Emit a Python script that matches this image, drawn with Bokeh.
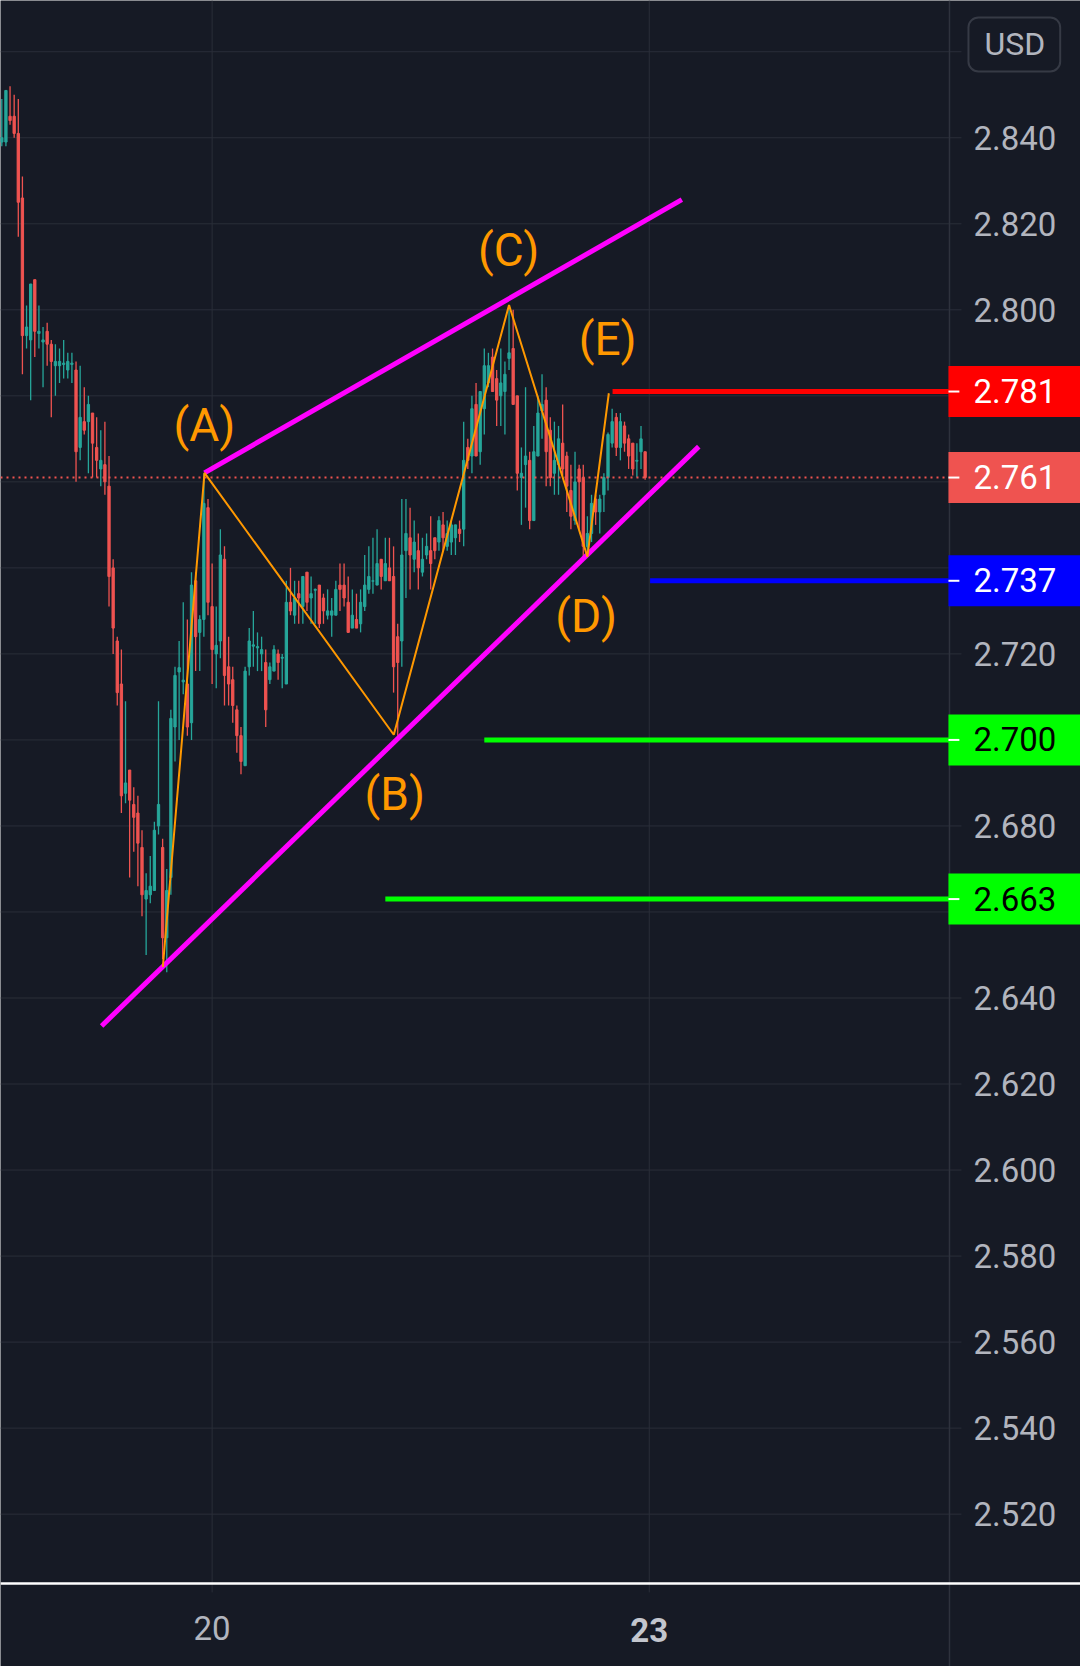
from bokeh.plotting import figure
from bokeh.models import Range1d, FixedTicker, Label, ColumnDataSource
from bokeh.embed import file_html
from bokeh.resources import INLINE
from bokeh.core.properties import value

# ---------------- data ----------------
opens = [2.839, 2.839, 2.845, 2.845, 2.841, 2.826, 2.794, 2.793, 2.807, 2.7945,
         2.7925, 2.795, 2.792, 2.787, 2.787, 2.7873, 2.786, 2.7873, 2.786, 2.768,
         2.774, 2.774, 2.776, 2.768, 2.763, 2.764, 2.759, 2.740, 2.723, 2.713,
         2.6876, 2.693, 2.685, 2.683, 2.675, 2.663, 2.664, 2.665, 2.680, 2.675,
         2.654, 2.668, 2.703, 2.7158, 2.7135, 2.713, 2.704, 2.737, 2.725, 2.728,
         2.754, 2.731, 2.720, 2.723, 2.742, 2.717, 2.714, 2.707, 2.701, 2.694,
         2.717, 2.7218, 2.7214, 2.720, 2.718, 2.714, 2.716, 2.720, 2.719, 2.713,
         2.732, 2.729, 2.734, 2.731, 2.739, 2.733, 2.7348, 2.736, 2.733, 2.729,
         2.729, 2.729, 2.736, 2.736, 2.732, 2.726, 2.728, 2.727, 2.731, 2.735,
         2.7369, 2.736, 2.742, 2.737, 2.740, 2.738, 2.724, 2.723, 2.744, 2.747,
         2.742, 2.744, 2.739, 2.743, 2.744, 2.747, 2.746, 2.750, 2.745, 2.746,
         2.747, 2.749, 2.749, 2.768, 2.766, 2.778, 2.767, 2.777, 2.783, 2.789,
         2.784, 2.780, 2.781, 2.7887, 2.791, 2.780, 2.761, 2.764, 2.765, 2.751,
         2.766, 2.7765, 2.779, 2.772, 2.762, 2.764, 2.769, 2.766, 2.758, 2.751,
         2.763, 2.761, 2.745, 2.748, 2.756, 2.753, 2.757, 2.761, 2.769, 2.775,
         2.768, 2.773, 2.770, 2.769, 2.7648, 2.767, 2.767]
highs = [2.849, 2.851, 2.852, 2.850, 2.849, 2.831, 2.801, 2.806, 2.807, 2.801,
         2.796, 2.797, 2.793, 2.792, 2.791, 2.793, 2.790, 2.790, 2.788, 2.787,
         2.782, 2.780, 2.776, 2.775, 2.772, 2.774, 2.766, 2.742, 2.724, 2.721,
         2.709, 2.693, 2.689, 2.687, 2.679, 2.669, 2.673, 2.681, 2.709, 2.677,
         2.670, 2.707, 2.717, 2.723, 2.732, 2.728, 2.739, 2.739, 2.729, 2.762,
         2.756, 2.741, 2.731, 2.749, 2.745, 2.724, 2.717, 2.708, 2.703, 2.717,
         2.726, 2.730, 2.725, 2.724, 2.721, 2.718, 2.722, 2.721, 2.720, 2.737,
         2.740, 2.737, 2.737, 2.738, 2.739, 2.738, 2.7352, 2.736, 2.734, 2.735,
         2.733, 2.737, 2.741, 2.741, 2.738, 2.735, 2.734, 2.735, 2.743, 2.745,
         2.747, 2.749, 2.742, 2.747, 2.747, 2.745, 2.727, 2.756, 2.756, 2.754,
         2.751, 2.748, 2.747, 2.748, 2.752, 2.747, 2.752, 2.753, 2.751, 2.751,
         2.750, 2.751, 2.774, 2.770, 2.780, 2.783, 2.781, 2.791, 2.790, 2.791,
         2.786, 2.791, 2.788, 2.801, 2.800, 2.780, 2.768, 2.782, 2.767, 2.773,
         2.780, 2.785, 2.782, 2.775, 2.774, 2.773, 2.778, 2.767, 2.764, 2.767,
         2.764, 2.764, 2.752, 2.757, 2.757, 2.757, 2.762, 2.7715, 2.777, 2.776,
         2.776, 2.774, 2.771, 2.769, 2.769, 2.773, 2.767]
lows = [2.838, 2.838, 2.843, 2.840, 2.817, 2.785, 2.791, 2.779, 2.789, 2.791,
        2.782, 2.787, 2.775, 2.780, 2.783, 2.784, 2.784, 2.783, 2.760, 2.765,
        2.771, 2.762, 2.761, 2.761, 2.759, 2.757, 2.731, 2.720, 2.708, 2.683,
        2.6853, 2.668, 2.674, 2.666, 2.659, 2.650, 2.662, 2.665, 2.678, 2.649,
        2.646, 2.664, 2.695, 2.700, 2.7106, 2.701, 2.700, 2.716, 2.716, 2.724,
        2.729, 2.713, 2.712, 2.719, 2.708, 2.708, 2.704, 2.697, 2.692, 2.694,
        2.715, 2.717, 2.716, 2.716, 2.703, 2.713, 2.716, 2.714, 2.712, 2.713,
        2.729, 2.727, 2.727, 2.727, 2.730, 2.727, 2.727, 2.726, 2.727, 2.728,
        2.724, 2.729, 2.730, 2.731, 2.725, 2.726, 2.726, 2.725, 2.730, 2.734,
        2.734, 2.736, 2.735, 2.737, 2.737, 2.711, 2.701, 2.717, 2.733, 2.735,
        2.739, 2.735, 2.738, 2.742, 2.735, 2.742, 2.744, 2.744, 2.744, 2.743,
        2.743, 2.746, 2.745, 2.763, 2.762, 2.766, 2.764, 2.771, 2.782, 2.781,
        2.773, 2.773, 2.771, 2.786, 2.778, 2.758, 2.750, 2.754, 2.749, 2.751,
        2.766, 2.770, 2.759, 2.759, 2.757, 2.757, 2.7615, 2.753, 2.749, 2.750,
        2.749, 2.742, 2.743, 2.746, 2.750, 2.748, 2.753, 2.758, 2.768, 2.766,
        2.765, 2.767, 2.763, 2.7615, 2.761, 2.763, 2.7605]
closes = [2.840, 2.851, 2.844, 2.841, 2.825, 2.794, 2.796, 2.806, 2.795, 2.795,
          2.793, 2.792, 2.788, 2.788, 2.788, 2.7876, 2.788, 2.7876, 2.767, 2.775,
          2.772, 2.778, 2.769, 2.765, 2.765, 2.760, 2.738, 2.726, 2.711, 2.687,
          2.690, 2.686, 2.682, 2.676, 2.664, 2.665, 2.666, 2.679, 2.685, 2.654,
          2.665, 2.705, 2.715, 2.7168, 2.7139, 2.703, 2.736, 2.724, 2.728, 2.755,
          2.732, 2.721, 2.722, 2.743, 2.715, 2.713, 2.708, 2.701, 2.695, 2.716,
          2.723, 2.7221, 2.7217, 2.721, 2.707, 2.717, 2.721, 2.718, 2.7192, 2.732,
          2.730, 2.733, 2.733, 2.738, 2.732, 2.734, 2.735, 2.727, 2.730, 2.730,
          2.730, 2.735, 2.735, 2.733, 2.725, 2.729, 2.726, 2.732, 2.736, 2.738,
          2.737, 2.741, 2.738, 2.741, 2.737, 2.717, 2.718, 2.743, 2.748, 2.743,
          2.746, 2.740, 2.742, 2.745, 2.741, 2.744, 2.751, 2.747, 2.748, 2.750,
          2.750, 2.748, 2.765, 2.765, 2.777, 2.766, 2.781, 2.787, 2.787, 2.781,
          2.779, 2.783, 2.785, 2.790, 2.778, 2.762, 2.762, 2.766, 2.751, 2.767,
          2.776, 2.778, 2.767, 2.761, 2.765, 2.770, 2.763, 2.759, 2.752, 2.760,
          2.760, 2.745, 2.748, 2.755, 2.753, 2.756, 2.761, 2.771, 2.774, 2.768,
          2.774, 2.769, 2.766, 2.763, 2.765, 2.770, 2.761]

day_ticks = [51, 157]
day_labels = ["20", "23"]
price_ticks = [2.52, 2.54, 2.56, 2.58, 2.60, 2.62, 2.64, 2.66, 2.68, 2.70,
               2.72, 2.74, 2.76, 2.78, 2.80, 2.82, 2.84, 2.86]

wave_x = [39.05, 49.15, 95.05, 123.0, 142.0, 147.2]
wave_y = [2.6472, 2.7621, 2.7012, 2.8011, 2.7426, 2.7806]
wave_names = ["(A)", "(B)", "(C)", "(D)", "(E)"]
wave_label_x = [49.15, 95.3, 122.9, 141.7, 146.9]
wave_label_y = [2.7732, 2.6874, 2.8140, 2.7288, 2.7931]

upper_x = [49.15, 164.9]
upper_y = [2.7621, 2.8256]
lower_x = [24.2, 169.0]
lower_y = [2.6335, 2.7682]

level_prices = [2.781, 2.737, 2.700, 2.663]
level_start = [148.1, 157.2, 117.0, 93.0]
level_colors = ["#ff0000", "#0000ff", "#00ff00", "#00ff00"]
last_price = 2.761

box_prices = [2.781, 2.761, 2.737, 2.700, 2.663]
box_texts = ["2.781", "2.761", "2.737", "2.700", "2.663"]
box_fill = ["#ff0000", "#ef5350", "#0000ff", "#00ff00", "#00ff00"]
box_text_color = ["#ffffff", "#ffffff", "#ffffff", "#000000", "#000000"]

# ---------------- layout constants (pixels -> data) ----------------
BG = "#161a25"
GRID = "#2a2e39"
BORDER = "#2e323d"
UP = "#26a69a"
DOWN = "#ef5350"
AXIS_TEXT = "#b2b5be"
FONT = "Roboto"

W, H = 1080, 1666
X0, X1 = -0.315, 261.57          # candle-index range across the canvas
Y0, Y1 = 2.48458, 2.87191        # price range across the canvas
PANE_X = 229.8                   # price-scale border
TICK_X = 232.7                   # end of tick marks
BOX_X = 229.55                   # left edge of price badges
PANE_Y = 2.50389                 # time-scale border
TICK_Y = 2.50181                 # end of day tick marks
DAY_LABEL_Y = 2.4930

src = ColumnDataSource(dict(
    x=list(range(len(opens))),
    h=highs, l=lows,
    top=[max(o, c) for o, c in zip(opens, closes)],
    bottom=[min(o, c) for o, c in zip(opens, closes)],
    color=[UP if c >= o else DOWN for o, c in zip(opens, closes)],
))

p = figure(frame_width=W, frame_height=H,
           x_range=Range1d(X0, X1), y_range=Range1d(Y0, Y1),
           output_backend="svg", toolbar_location=None,
           x_axis_location="below", y_axis_location="right",
           min_border_left=0, min_border_top=0, min_border_right=0, min_border_bottom=0,
           background_fill_color=BG, border_fill_color=BG,
           outline_line_color=None)
p.grid.visible = False

# x axis (labels pulled up into the time-scale strip)
xa = p.xaxis[0]
xa.ticker = FixedTicker(ticks=day_ticks)
xa.major_label_overrides = {day_ticks[0]: day_labels[0], day_ticks[1]: ""}
xa.axis_line_color = None
xa.major_tick_in = 0
xa.major_tick_out = 0
xa.minor_tick_out = 0
xa.minor_tick_in = 0
xa.major_label_text_font = FONT
xa.major_label_text_font_size = "33px"
xa.major_label_text_color = AXIS_TEXT
xa.major_label_standoff = -51

# y axis (labels pulled left into the price-scale strip)
ya = p.yaxis[0]
ya.ticker = FixedTicker(ticks=price_ticks)
ya.major_label_overrides = {t: ("" if t == 2.86 else f"{t:.3f}") for t in price_ticks}
ya.axis_line_color = None
ya.major_tick_in = 0
ya.major_tick_out = 0
ya.minor_tick_out = 0
ya.minor_tick_in = 0
ya.major_label_text_font = FONT
ya.major_label_text_font_size = "33px"
ya.major_label_text_color = AXIS_TEXT
ya.major_label_standoff = -107

# grid lines with their tick extensions
p.segment(x0=[X0] * len(price_ticks), x1=[TICK_X] * len(price_ticks),
          y0=price_ticks, y1=price_ticks, line_color=GRID, line_width=1)
p.segment(x0=day_ticks, x1=day_ticks, y0=[Y1] * 2, y1=[TICK_Y] * 2,
          line_color=GRID, line_width=1)
# scale borders
p.segment(x0=[PANE_X], x1=[PANE_X], y0=[Y1], y1=[Y0], line_color=BORDER, line_width=1.5)
p.segment(x0=[X0], x1=[X1], y0=[PANE_Y], y1=[PANE_Y], line_color="#ffffff", line_width=2.5)

# candles
p.segment(x0="x", y0="h", x1="x", y1="l", line_color="color", line_width=1.3, source=src)
p.vbar(x="x", width=0.56, top="top", bottom="bottom", fill_color="color",
       line_color="color", line_width=1, source=src)

# last price dotted line
p.segment(x0=[X0], x1=[PANE_X], y0=[last_price], y1=[last_price], line_color=DOWN,
          line_width=2, line_dash="2 4")

# horizontal levels
p.segment(x0=level_start, x1=[PANE_X] * len(level_start), y0=level_prices, y1=level_prices,
          line_color=level_colors, line_width=5)

# triangle trend lines
p.line(upper_x, upper_y, line_color="#ff00ff", line_width=5)
p.line(lower_x, lower_y, line_color="#ff00ff", line_width=5)

# wave zigzag
p.line(wave_x, wave_y, line_color="#ff9800", line_width=2)
p.text(x=wave_label_x, y=wave_label_y, text=wave_names,
       text_font=value(FONT), text_font_size="46px", text_color="#ff9800",
       text_align="center", text_baseline="middle")

# bold day label
p.text(x=[day_ticks[1]], y=[DAY_LABEL_Y], text=[day_labels[1]], text_font=value(FONT),
       text_font_size="33px", text_font_style="bold", text_color="#c3c6ce",
       text_align="center", text_baseline="middle")

# price badges on the scale  (padding: left, right, top, bottom)
for pr, t, fc, tc in zip(box_prices, box_texts, box_fill, box_text_color):
    p.add_layout(Label(x=BOX_X, y=pr, text=t, text_font=FONT, text_font_size="33px",
                       text_color=tc, text_align="left", text_baseline="middle",
                       background_fill_color=fc, background_fill_alpha=1.0,
                       padding=(25, 40, 13, 14)))
# white tick marks over the badges
p.segment(x0=[BOX_X] * len(box_prices), x1=[232.2] * len(box_prices),
          y0=box_prices, y1=box_prices, line_color="#ffffff", line_width=2, level="overlay")

# currency badge
p.add_layout(Label(x=234.4, y=2.8617, text="USD", text_font=FONT, text_font_size="32px",
                   text_color=AXIS_TEXT, text_align="left", text_baseline="middle",
                   background_fill_color=BG, border_line_color="#363a45",
                   border_line_width=2, border_radius=10, padding=(16, 15, 8, 8)))

open("out.html", "w").write(file_html(p, INLINE))
